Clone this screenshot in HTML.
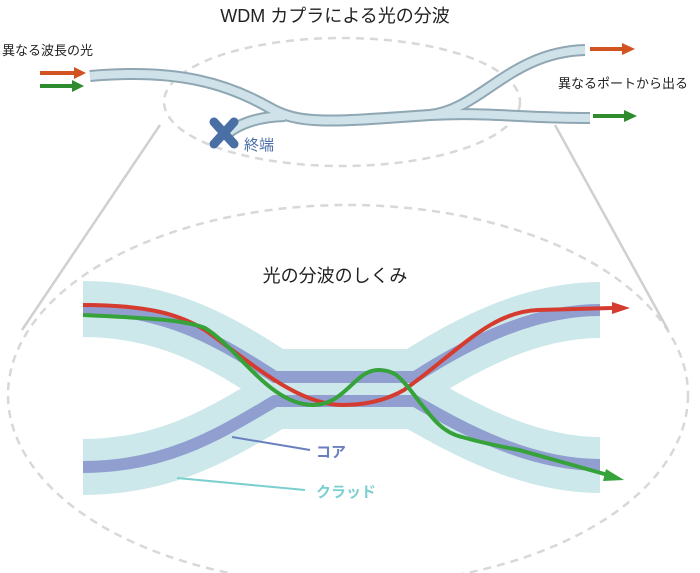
<!DOCTYPE html>
<html><head><meta charset="utf-8"><style>
body{margin:0;background:#fff;}
svg{display:block;font-family:"Liberation Sans","Noto Sans CJK JP",sans-serif;}
</style></head><body>
<svg width="700" height="573" viewBox="0 0 700 573" xmlns="http://www.w3.org/2000/svg">
<text x="335" y="22" font-size="18" text-anchor="middle" fill="#222">WDM カプラによる光の分波</text>
<text x="2" y="55" font-size="13" fill="#222">異なる波長の光</text>
<text x="558" y="88" font-size="13" fill="#222">異なるポートから出る</text>
<ellipse cx="342" cy="102" rx="178" ry="64" fill="none" stroke="#d8d8d8" stroke-width="2.5" stroke-dasharray="8,6"/>
<ellipse cx="348" cy="395" rx="340" ry="190" fill="none" stroke="#d8d8d8" stroke-width="2.5" stroke-dasharray="8,6"/>
<line x1="160" y1="125" x2="22" y2="330" stroke="#d0d0d0" stroke-width="2.5"/>
<line x1="555" y1="125" x2="668" y2="330" stroke="#d0d0d0" stroke-width="2.5"/>
<g fill="none" stroke-linecap="butt">
<g stroke="#8fa6b3" stroke-width="12">
<path d="M90,76 C180,68 230,85 270,108 C300,125 330,122 430,115 C480,110 510,52 585,50"/>
<path d="M430,115 C490,112 520,118 590,118"/>
<path d="M285,116 C255,117 238,125 228,133"/>
</g>
<g stroke="#cfe2ea" stroke-width="8">
<path d="M90,76 C180,68 230,85 270,108 C300,125 330,122 430,115 C480,110 510,52 585,50"/>
<path d="M430,115 C490,112 520,118 590,118"/>
<path d="M285,116 C255,117 238,125 228,133"/>
</g>
</g>
<g stroke-width="4">
<line x1="40" y1="73" x2="76" y2="73" stroke="#d2531f"/>
<line x1="40" y1="86" x2="74" y2="86" stroke="#2e8b2e"/>
<line x1="590" y1="49" x2="624" y2="49" stroke="#d2531f"/>
<line x1="593" y1="116" x2="626" y2="116" stroke="#2e8b2e"/>
</g>
<path d="M74,67 L86,73 L74,79z" fill="#d2531f"/>
<path d="M72,80 L84,86 L72,92z" fill="#2e8b2e"/>
<path d="M622,43 L635,49 L622,55z" fill="#d2531f"/>
<path d="M624,110 L637,116 L624,122z" fill="#2e8b2e"/>
<g stroke="#4a6fa5" stroke-width="9" stroke-linecap="round">
<line x1="214" y1="122" x2="234" y2="144"/><line x1="234" y1="122" x2="214" y2="144"/>
</g>
<text x="244" y="150" font-size="15" fill="#4a6fa5">終端</text>
<text x="335" y="282" font-size="18" text-anchor="middle" fill="#222">光の分波のしくみ</text>
<g fill="none" stroke="#cce8ea" stroke-width="56">
<path d="M83,309 C170,309 225,345 275,377 L415,377 C465,345 530,310 600,310"/>
<path d="M83,467 C170,467 225,430 275,401 L415,401 C465,430 530,465 600,465"/>
</g>
<rect x="270" y="376" width="150" height="26" fill="#cce8ea"/>
<g fill="none" stroke="#919fd0" stroke-width="12">
<path d="M83,309 C170,309 225,345 275,377 L415,377 C465,345 530,310 600,310"/>
<path d="M83,467 C170,467 225,430 275,401 L415,401 C465,430 530,465 600,465"/>
</g>
<line x1="232" y1="437" x2="310" y2="450" stroke="#6a7fbf" stroke-width="2"/>
<line x1="177" y1="478" x2="305" y2="490" stroke="#7ccfcf" stroke-width="2"/>
<text x="316" y="457" font-size="15" font-weight="bold" fill="#6a7fbf">コア</text>
<text x="316" y="497" font-size="15" font-weight="bold" fill="#7ccfcf">クラッド</text>
<path d="M83,305 C150,305 180,315 205,330 C260,370 300,405 343,405 C370,405 390,398 404,390 C460,350 490,312 538,310 L612,308" fill="none" stroke="#d63b2f" stroke-width="4"/>
<path d="M612,302 L630,308 L612,314z" fill="#d63b2f"/>
<path d="M83,315 C150,318 185,320 205,328 C240,350 270,405 313,405 C345,405 355,370 378,370 C395,370 400,378 408,387 C430,415 440,432 462,437 C490,445 505,447 519,450 L608,475" fill="none" stroke="#36a23a" stroke-width="4"/>
<path d="M606,469 L624,480 L603,481z" fill="#36a23a"/>
</svg>
</body></html>
